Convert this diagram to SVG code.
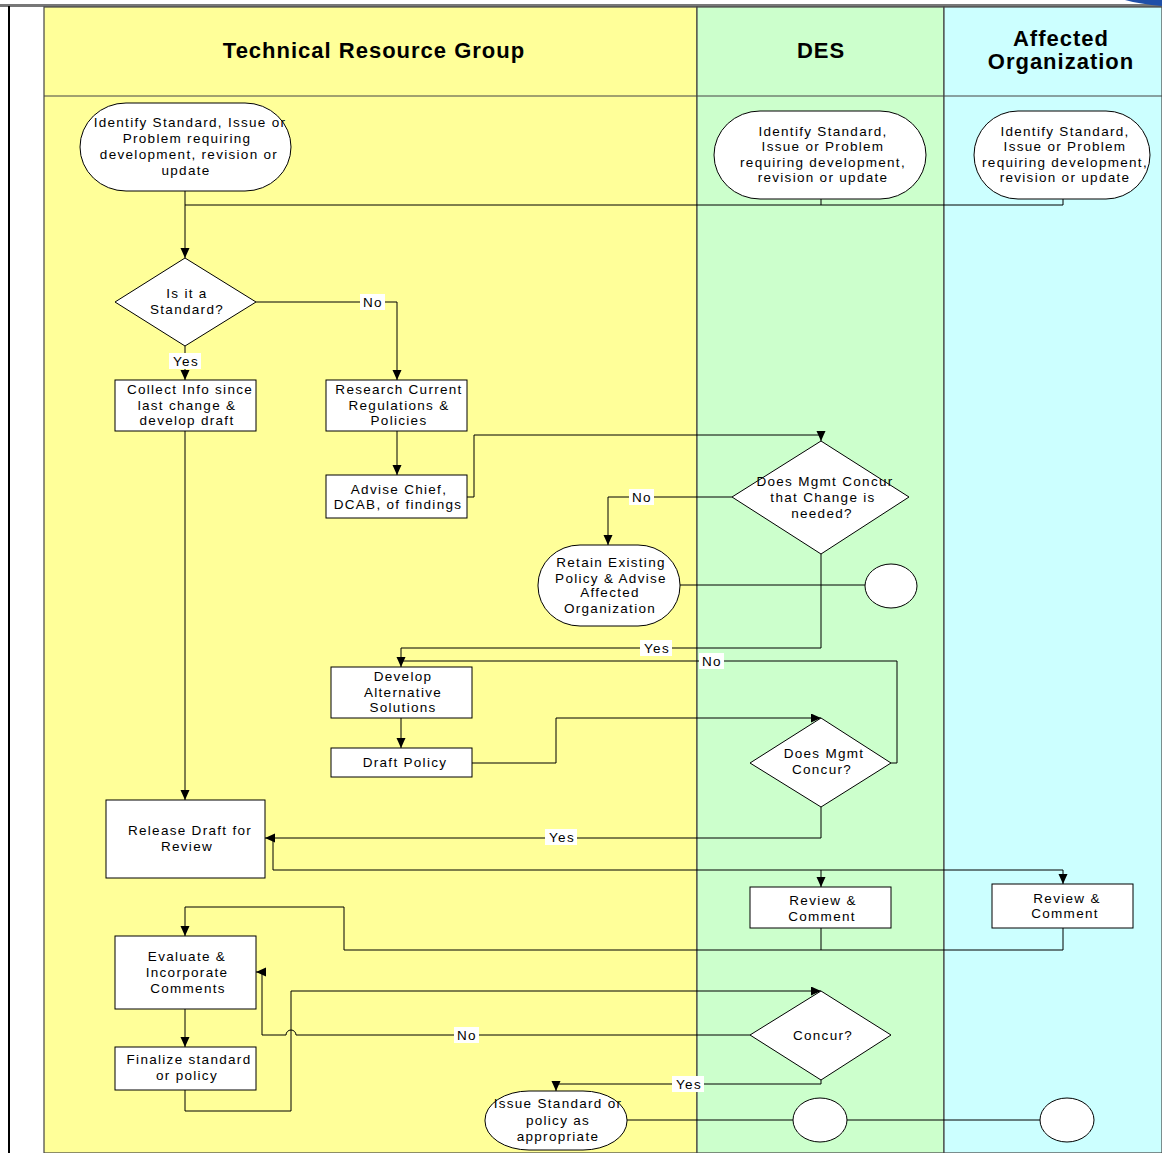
<svg xmlns="http://www.w3.org/2000/svg" width="1162" height="1153" viewBox="0 0 1162 1153">
<style>
.lane{stroke:#444;stroke-width:1.2}
.hdr{font-family:"Liberation Sans",Arial,sans-serif;font-weight:bold;font-size:22px;letter-spacing:1px;fill:#000;text-anchor:middle}
.t{font-family:"Liberation Sans",Arial,sans-serif;font-size:13.5px;letter-spacing:1.3px;fill:#000;text-anchor:middle}
.shape{fill:#fff;stroke:#000;stroke-width:1}
.c{fill:none;stroke:#000;stroke-width:1}
.lbl{fill:#fff}
</style>
<defs>
<marker id="arr" markerUnits="userSpaceOnUse" markerWidth="12" markerHeight="10" refX="10" refY="4.5" orient="auto">
<path d="M0,0 L10,4.5 L0,9 z" fill="#000"/>
</marker>
</defs>
<rect x="0" y="0" width="1162" height="1153" fill="#fff"/>
<rect x="0" y="4" width="1162" height="3" fill="#777"/>
<path d="M1125,0 L1162,0 L1162,6 Q1140,4 1125,0 z" fill="#1f4fa8"/>
<line x1="9" y1="6" x2="9" y2="1153" stroke="#000" stroke-width="2"/>
<g id="lanes">
<rect x="44" y="7" width="653" height="1146" fill="#ffff99" class="lane"/>
<rect x="697" y="7" width="247" height="1146" fill="#ccffcc" class="lane"/>
<rect x="944" y="7" width="218" height="1146" fill="#ccffff" class="lane"/>
<line x1="44" y1="96" x2="1162" y2="96" class="lane"/>
<text class="hdr" x="374" y="58">Technical Resource Group</text>
<text class="hdr" x="821" y="58">DES</text>
<text class="hdr" x="1061" y="46">Affected</text>
<text class="hdr" x="1061" y="69">Organization</text>
</g>
<g id="connectors">
<path class="c" d="M185,191 V258" marker-end="url(#arr)"/>
<path class="c" d="M821,199 V205 H185"/>
<path class="c" d="M1063,199 V205 H821"/>
<path class="c" d="M256,302 H397 V380" marker-end="url(#arr)"/>
<path class="c" d="M185,346 V380" marker-end="url(#arr)"/>
<path class="c" d="M397,431 V475" marker-end="url(#arr)"/>
<path class="c" d="M467,497 H474 V435 H821 V441" marker-end="url(#arr)"/>
<path class="c" d="M732,497 H608 V545" marker-end="url(#arr)"/>
<path class="c" d="M680,585 H865"/>
<path class="c" d="M821,554 V648 H401 V667" marker-end="url(#arr)"/>
<path class="c" d="M891,763 H897 V661 H401"/>
<path class="c" d="M401,718 V748" marker-end="url(#arr)"/>
<path class="c" d="M472,763 H556 V718 H821" marker-end="url(#arr)"/>
<path class="c" d="M821,807 V838 H265" marker-end="url(#arr)"/>
<path class="c" d="M185,431 V800" marker-end="url(#arr)"/>
<path class="c" d="M273,838 V870 H1063 V884" marker-end="url(#arr)"/>
<path class="c" d="M821,870 V887" marker-end="url(#arr)"/>
<path class="c" d="M821,928 V950 H344 V907 H185 V936" marker-end="url(#arr)"/>
<path class="c" d="M1063,928 V950 H821"/>
<path class="c" d="M185,1009 V1047" marker-end="url(#arr)"/>
<path class="c" d="M185,1090 V1111 H291 V991 H821" marker-end="url(#arr)"/>
<path class="c" d="M750,1035 H296 A5,5 0 0 0 286,1035 H262 V972 H256" marker-end="url(#arr)"/>
<path class="c" d="M821,1080 V1084 H556 V1091" marker-end="url(#arr)"/>
<path class="c" d="M627,1120 H793"/>
<path class="c" d="M847,1120 H1041"/>
<rect class="lbl" x="360" y="294" width="25" height="16"/><text class="t" x="373" y="307">No</text>
<rect class="lbl" x="169" y="353" width="32" height="16"/><text class="t" x="186" y="366">Yes</text>
<rect class="lbl" x="629" y="489" width="25" height="16"/><text class="t" x="642" y="502">No</text>
<rect class="lbl" x="640" y="640" width="32" height="16"/><text class="t" x="657" y="653">Yes</text>
<rect class="lbl" x="699" y="653" width="25" height="16"/><text class="t" x="712" y="666">No</text>
<rect class="lbl" x="545" y="829" width="32" height="16"/><text class="t" x="562" y="842">Yes</text>
<rect class="lbl" x="454" y="1027" width="25" height="16"/><text class="t" x="467" y="1040">No</text>
<rect class="lbl" x="672" y="1076" width="32" height="16"/><text class="t" x="689" y="1089">Yes</text>
</g>
<g id="n_identify_trg">
<rect class="shape" x="80" y="103" width="211" height="88" rx="46" ry="44"/>
<text class="t" x="190" y="127">Identify Standard, Issue or</text>
<text class="t" x="187" y="143">Problem requiring</text>
<text class="t" x="189" y="159">development, revision or</text>
<text class="t" x="186" y="175">update</text>
</g>
<g id="n_identify_des">
<rect class="shape" x="714" y="111" width="212" height="88" rx="46" ry="44"/>
<text class="t" x="823" y="136">Identify Standard,</text>
<text class="t" x="823" y="151">Issue or Problem</text>
<text class="t" x="823" y="167">requiring development,</text>
<text class="t" x="823" y="182">revision or update</text>
</g>
<g id="n_identify_ao">
<rect class="shape" x="974" y="111" width="176" height="88" rx="44" ry="44"/>
<text class="t" x="1065" y="136">Identify Standard,</text>
<text class="t" x="1065" y="151">Issue or Problem</text>
<text class="t" x="1065" y="167">requiring development,</text>
<text class="t" x="1065" y="182">revision or update</text>
</g>
<g id="n_is_standard">
<polygon class="shape" points="185,258 256,302 185,346 115,302"/>
<text class="t" x="187" y="298">Is it a</text>
<text class="t" x="187" y="314">Standard?</text>
</g>
<g id="n_collect">
<rect class="shape" x="115" y="380" width="141" height="51"/>
<text class="t" x="190" y="394">Collect Info since</text>
<text class="t" x="187" y="410">last change &amp;</text>
<text class="t" x="187" y="425">develop draft</text>
</g>
<g id="n_research">
<rect class="shape" x="326" y="380" width="141" height="51"/>
<text class="t" x="399" y="394">Research Current</text>
<text class="t" x="399" y="410">Regulations &amp;</text>
<text class="t" x="399" y="425">Policies</text>
</g>
<g id="n_advise">
<rect class="shape" x="326" y="475" width="141" height="43"/>
<text class="t" x="399" y="494">Advise Chief,</text>
<text class="t" x="398" y="509">DCAB, of findings</text>
</g>
<g id="n_mgmt_change">
<polygon class="shape" points="821,441 909,497 821,554 732,497"/>
<text class="t" x="825" y="486">Does Mgmt Concur</text>
<text class="t" x="823" y="502">that Change is</text>
<text class="t" x="822" y="518">needed?</text>
</g>
<g id="n_retain">
<rect class="shape" x="538" y="545" width="142" height="81" rx="42" ry="40"/>
<text class="t" x="611" y="567">Retain Existing</text>
<text class="t" x="611" y="583">Policy &amp; Advise</text>
<text class="t" x="610" y="597">Affected</text>
<text class="t" x="610" y="613">Organization</text>
</g>
<g id="n_circle1">
<ellipse class="shape" cx="891" cy="586" rx="26" ry="22"/>
</g>
<g id="n_develop">
<rect class="shape" x="331" y="667" width="141" height="51"/>
<text class="t" x="403" y="681">Develop</text>
<text class="t" x="403" y="697">Alternative</text>
<text class="t" x="403" y="712">Solutions</text>
</g>
<g id="n_draft">
<rect class="shape" x="331" y="748" width="141" height="29"/>
<text class="t" x="405" y="767">Draft Policy</text>
</g>
<g id="n_mgmt_concur">
<polygon class="shape" points="821,718 891,763 821,807 750,763"/>
<text class="t" x="824" y="758">Does Mgmt</text>
<text class="t" x="822" y="774">Concur?</text>
</g>
<g id="n_release">
<rect class="shape" x="106" y="800" width="159" height="78"/>
<text class="t" x="190" y="835">Release Draft for</text>
<text class="t" x="187" y="851">Review</text>
</g>
<g id="n_review_des">
<rect class="shape" x="750" y="887" width="141" height="41"/>
<text class="t" x="823" y="905">Review &amp;</text>
<text class="t" x="822" y="921">Comment</text>
</g>
<g id="n_review_ao">
<rect class="shape" x="992" y="884" width="141" height="44"/>
<text class="t" x="1067" y="903">Review &amp;</text>
<text class="t" x="1065" y="918">Comment</text>
</g>
<g id="n_evaluate">
<rect class="shape" x="115" y="936" width="141" height="73"/>
<text class="t" x="187" y="961">Evaluate &amp;</text>
<text class="t" x="187" y="977">Incorporate</text>
<text class="t" x="188" y="993">Comments</text>
</g>
<g id="n_finalize">
<rect class="shape" x="115" y="1047" width="141" height="43"/>
<text class="t" x="189" y="1064">Finalize standard</text>
<text class="t" x="187" y="1080">or policy</text>
</g>
<g id="n_concur">
<polygon class="shape" points="821,991 891,1035 821,1080 750,1035"/>
<text class="t" x="823" y="1040">Concur?</text>
</g>
<g id="n_issue">
<rect class="shape" x="485" y="1091" width="142" height="59" rx="44" ry="29"/>
<text class="t" x="558" y="1108">Issue Standard or</text>
<text class="t" x="558" y="1125">policy as</text>
<text class="t" x="558" y="1141">appropriate</text>
</g>
<g id="n_circle2">
<ellipse class="shape" cx="820" cy="1120" rx="27" ry="22"/>
</g>
<g id="n_circle3">
<ellipse class="shape" cx="1067" cy="1120" rx="27" ry="22"/>
</g>
</svg>
